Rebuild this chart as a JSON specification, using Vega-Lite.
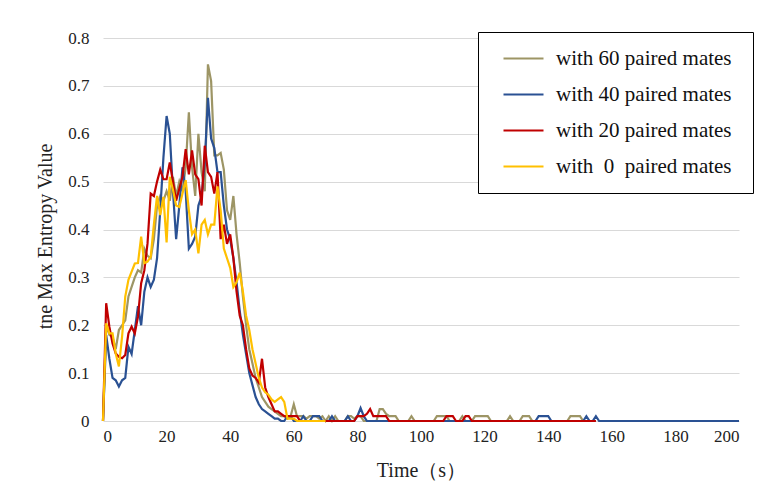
{
"$schema": "https://vega.github.io/schema/vega-lite/v6.json",
"width": 636, "height": 383,
"autosize": {"type": "none"},
"padding": {"left": 103, "top": 38, "right": 21, "bottom": 76},
"background": "white",
"config": {"view": {"stroke": null}, "font": "Liberation Serif",
 "axis": {"labelFont": "Liberation Serif", "titleFont": "Liberation Serif"},
 "legend": {"labelFont": "Liberation Serif", "titleFont": "Liberation Serif"}},
"data": {"values": [
{"s":"60","t":0,"v":0},{"s":"60","t":1,"v":0.2},{"s":"60","t":2,"v":0.18},{"s":"60","t":3,"v":0.175},{"s":"60","t":4,"v":0.15},{"s":"60","t":5,"v":0.19},{"s":"60","t":6,"v":0.2},{"s":"60","t":7,"v":0.21},{"s":"60","t":8,"v":0.26},{"s":"60","t":9,"v":0.28},{"s":"60","t":10,"v":0.3},{"s":"60","t":11,"v":0.315},{"s":"60","t":12,"v":0.31},{"s":"60","t":13,"v":0.36},{"s":"60","t":14,"v":0.345},{"s":"60","t":15,"v":0.34},{"s":"60","t":16,"v":0.38},{"s":"60","t":17,"v":0.45},{"s":"60","t":18,"v":0.47},{"s":"60","t":19,"v":0.46},{"s":"60","t":20,"v":0.48},{"s":"60","t":21,"v":0.46},{"s":"60","t":22,"v":0.51},{"s":"60","t":23,"v":0.47},{"s":"60","t":24,"v":0.5},{"s":"60","t":25,"v":0.48},{"s":"60","t":26,"v":0.53},{"s":"60","t":27,"v":0.645},{"s":"60","t":28,"v":0.53},{"s":"60","t":29,"v":0.47},{"s":"60","t":30,"v":0.6},{"s":"60","t":31,"v":0.52},{"s":"60","t":32,"v":0.48},{"s":"60","t":33,"v":0.745},{"s":"60","t":34,"v":0.71},{"s":"60","t":35,"v":0.555},{"s":"60","t":36,"v":0.555},{"s":"60","t":37,"v":0.56},{"s":"60","t":38,"v":0.525},{"s":"60","t":39,"v":0.44},{"s":"60","t":40,"v":0.42},{"s":"60","t":41,"v":0.47},{"s":"60","t":42,"v":0.39},{"s":"60","t":43,"v":0.33},{"s":"60","t":44,"v":0.26},{"s":"60","t":45,"v":0.2},{"s":"60","t":46,"v":0.15},{"s":"60","t":47,"v":0.12},{"s":"60","t":48,"v":0.09},{"s":"60","t":49,"v":0.07},{"s":"60","t":50,"v":0.05},{"s":"60","t":51,"v":0.04},{"s":"60","t":52,"v":0.03},{"s":"60","t":53,"v":0.025},{"s":"60","t":54,"v":0.02},{"s":"60","t":55,"v":0.015},{"s":"60","t":56,"v":0.01},{"s":"60","t":57,"v":0.01},{"s":"60","t":58,"v":0.005},{"s":"60","t":59,"v":0.01},{"s":"60","t":60,"v":0.035},{"s":"60","t":61,"v":0.01},{"s":"60","t":62,"v":0.01},{"s":"60","t":63,"v":0.01},{"s":"60","t":64,"v":0.005},{"s":"60","t":65,"v":0.01},{"s":"60","t":66,"v":0.01},{"s":"60","t":67,"v":0.01},{"s":"60","t":68,"v":0.005},{"s":"60","t":69,"v":0.01},{"s":"60","t":70,"v":0},{"s":"60","t":71,"v":0.01},{"s":"60","t":72,"v":0},{"s":"60","t":73,"v":0.01},{"s":"60","t":74,"v":0},{"s":"60","t":76,"v":0},{"s":"60","t":77,"v":0.01},{"s":"60","t":78,"v":0.01},{"s":"60","t":79,"v":0.005},{"s":"60","t":80,"v":0.01},{"s":"60","t":81,"v":0.01},{"s":"60","t":82,"v":0},{"s":"60","t":86,"v":0},{"s":"60","t":87,"v":0.025},{"s":"60","t":88,"v":0.025},{"s":"60","t":89,"v":0.015},{"s":"60","t":90,"v":0.01},{"s":"60","t":91,"v":0.01},{"s":"60","t":92,"v":0.01},{"s":"60","t":93,"v":0},{"s":"60","t":96,"v":0},{"s":"60","t":97,"v":0.01},{"s":"60","t":98,"v":0},{"s":"60","t":104,"v":0},{"s":"60","t":105,"v":0.01},{"s":"60","t":106,"v":0.01},{"s":"60","t":107,"v":0.01},{"s":"60","t":108,"v":0.01},{"s":"60","t":109,"v":0},{"s":"60","t":112,"v":0},{"s":"60","t":113,"v":0.01},{"s":"60","t":114,"v":0},{"s":"60","t":116,"v":0},{"s":"60","t":117,"v":0.01},{"s":"60","t":118,"v":0.01},{"s":"60","t":119,"v":0.01},{"s":"60","t":120,"v":0.01},{"s":"60","t":121,"v":0.01},{"s":"60","t":122,"v":0},{"s":"60","t":127,"v":0},{"s":"60","t":128,"v":0.01},{"s":"60","t":129,"v":0},{"s":"60","t":131,"v":0},{"s":"60","t":132,"v":0.01},{"s":"60","t":133,"v":0.01},{"s":"60","t":134,"v":0.01},{"s":"60","t":135,"v":0},{"s":"60","t":146,"v":0},{"s":"60","t":147,"v":0.01},{"s":"60","t":148,"v":0.01},{"s":"60","t":149,"v":0.01},{"s":"60","t":150,"v":0.01},{"s":"60","t":151,"v":0},{"s":"60","t":155,"v":0},
{"s":"40","t":0,"v":0},{"s":"40","t":1,"v":0.18},{"s":"40","t":2,"v":0.13},{"s":"40","t":3,"v":0.09},{"s":"40","t":4,"v":0.085},{"s":"40","t":5,"v":0.072},{"s":"40","t":6,"v":0.085},{"s":"40","t":7,"v":0.09},{"s":"40","t":8,"v":0.155},{"s":"40","t":9,"v":0.14},{"s":"40","t":10,"v":0.19},{"s":"40","t":11,"v":0.24},{"s":"40","t":12,"v":0.2},{"s":"40","t":13,"v":0.27},{"s":"40","t":14,"v":0.3},{"s":"40","t":15,"v":0.28},{"s":"40","t":16,"v":0.295},{"s":"40","t":17,"v":0.34},{"s":"40","t":18,"v":0.44},{"s":"40","t":19,"v":0.55},{"s":"40","t":20,"v":0.637},{"s":"40","t":21,"v":0.6},{"s":"40","t":22,"v":0.48},{"s":"40","t":23,"v":0.38},{"s":"40","t":24,"v":0.45},{"s":"40","t":25,"v":0.53},{"s":"40","t":26,"v":0.48},{"s":"40","t":27,"v":0.36},{"s":"40","t":28,"v":0.37},{"s":"40","t":29,"v":0.385},{"s":"40","t":30,"v":0.45},{"s":"40","t":31,"v":0.47},{"s":"40","t":32,"v":0.54},{"s":"40","t":33,"v":0.675},{"s":"40","t":34,"v":0.59},{"s":"40","t":35,"v":0.57},{"s":"40","t":36,"v":0.52},{"s":"40","t":37,"v":0.52},{"s":"40","t":38,"v":0.45},{"s":"40","t":39,"v":0.4},{"s":"40","t":40,"v":0.38},{"s":"40","t":41,"v":0.34},{"s":"40","t":42,"v":0.29},{"s":"40","t":43,"v":0.23},{"s":"40","t":44,"v":0.18},{"s":"40","t":45,"v":0.14},{"s":"40","t":46,"v":0.1},{"s":"40","t":47,"v":0.075},{"s":"40","t":48,"v":0.05},{"s":"40","t":49,"v":0.035},{"s":"40","t":50,"v":0.025},{"s":"40","t":51,"v":0.02},{"s":"40","t":52,"v":0.015},{"s":"40","t":53,"v":0.01},{"s":"40","t":54,"v":0.005},{"s":"40","t":55,"v":0.005},{"s":"40","t":56,"v":0},{"s":"40","t":57,"v":0},{"s":"40","t":58,"v":0.01},{"s":"40","t":59,"v":0.01},{"s":"40","t":60,"v":0},{"s":"40","t":62,"v":0},{"s":"40","t":63,"v":0.01},{"s":"40","t":64,"v":0},{"s":"40","t":65,"v":0},{"s":"40","t":66,"v":0.01},{"s":"40","t":67,"v":0.01},{"s":"40","t":68,"v":0.01},{"s":"40","t":69,"v":0},{"s":"40","t":71,"v":0},{"s":"40","t":72,"v":0.01},{"s":"40","t":73,"v":0},{"s":"40","t":76,"v":0},{"s":"40","t":77,"v":0.01},{"s":"40","t":78,"v":0},{"s":"40","t":79,"v":0},{"s":"40","t":80,"v":0.01},{"s":"40","t":81,"v":0.027},{"s":"40","t":82,"v":0.01},{"s":"40","t":83,"v":0},{"s":"40","t":136,"v":0},{"s":"40","t":137,"v":0.01},{"s":"40","t":138,"v":0.01},{"s":"40","t":139,"v":0.01},{"s":"40","t":140,"v":0.01},{"s":"40","t":141,"v":0},{"s":"40","t":151,"v":0},{"s":"40","t":152,"v":0.01},{"s":"40","t":153,"v":0},{"s":"40","t":154,"v":0},{"s":"40","t":155,"v":0.01},{"s":"40","t":156,"v":0},{"s":"40","t":200,"v":0},
{"s":"20","t":0,"v":0},{"s":"20","t":1,"v":0.246},{"s":"20","t":2,"v":0.197},{"s":"20","t":3,"v":0.162},{"s":"20","t":4,"v":0.141},{"s":"20","t":5,"v":0.134},{"s":"20","t":6,"v":0.131},{"s":"20","t":7,"v":0.138},{"s":"20","t":8,"v":0.183},{"s":"20","t":9,"v":0.197},{"s":"20","t":10,"v":0.183},{"s":"20","t":11,"v":0.218},{"s":"20","t":12,"v":0.288},{"s":"20","t":13,"v":0.315},{"s":"20","t":14,"v":0.371},{"s":"20","t":15,"v":0.475},{"s":"20","t":16,"v":0.47},{"s":"20","t":17,"v":0.5},{"s":"20","t":18,"v":0.525},{"s":"20","t":19,"v":0.505},{"s":"20","t":20,"v":0.505},{"s":"20","t":21,"v":0.54},{"s":"20","t":22,"v":0.5},{"s":"20","t":23,"v":0.46},{"s":"20","t":24,"v":0.485},{"s":"20","t":25,"v":0.51},{"s":"20","t":26,"v":0.568},{"s":"20","t":27,"v":0.515},{"s":"20","t":28,"v":0.565},{"s":"20","t":29,"v":0.515},{"s":"20","t":30,"v":0.505},{"s":"20","t":31,"v":0.45},{"s":"20","t":32,"v":0.575},{"s":"20","t":33,"v":0.52},{"s":"20","t":34,"v":0.51},{"s":"20","t":35,"v":0.475},{"s":"20","t":36,"v":0.52},{"s":"20","t":37,"v":0.38},{"s":"20","t":38,"v":0.41},{"s":"20","t":39,"v":0.37},{"s":"20","t":40,"v":0.39},{"s":"20","t":41,"v":0.34},{"s":"20","t":42,"v":0.27},{"s":"20","t":43,"v":0.22},{"s":"20","t":44,"v":0.2},{"s":"20","t":45,"v":0.15},{"s":"20","t":46,"v":0.11},{"s":"20","t":47,"v":0.095},{"s":"20","t":48,"v":0.09},{"s":"20","t":49,"v":0.08},{"s":"20","t":50,"v":0.13},{"s":"20","t":51,"v":0.07},{"s":"20","t":52,"v":0.05},{"s":"20","t":53,"v":0.035},{"s":"20","t":54,"v":0.02},{"s":"20","t":55,"v":0.02},{"s":"20","t":56,"v":0.015},{"s":"20","t":57,"v":0.01},{"s":"20","t":58,"v":0.01},{"s":"20","t":59,"v":0.01},{"s":"20","t":60,"v":0.01},{"s":"20","t":61,"v":0.01},{"s":"20","t":62,"v":0},{"s":"20","t":79,"v":0},{"s":"20","t":80,"v":0.01},{"s":"20","t":81,"v":0.01},{"s":"20","t":82,"v":0.01},{"s":"20","t":83,"v":0.015},{"s":"20","t":84,"v":0.025},{"s":"20","t":85,"v":0.01},{"s":"20","t":86,"v":0.01},{"s":"20","t":87,"v":0.01},{"s":"20","t":88,"v":0.01},{"s":"20","t":89,"v":0.01},{"s":"20","t":90,"v":0},{"s":"20","t":107,"v":0},{"s":"20","t":108,"v":0.01},{"s":"20","t":109,"v":0.01},{"s":"20","t":110,"v":0.01},{"s":"20","t":111,"v":0},{"s":"20","t":113,"v":0},{"s":"20","t":114,"v":0.01},{"s":"20","t":115,"v":0.01},{"s":"20","t":116,"v":0},{"s":"20","t":155,"v":0},
{"s":"0","t":0,"v":0},{"s":"0","t":1,"v":0.204},{"s":"0","t":2,"v":0.183},{"s":"0","t":3,"v":0.183},{"s":"0","t":4,"v":0.141},{"s":"0","t":5,"v":0.114},{"s":"0","t":6,"v":0.176},{"s":"0","t":7,"v":0.26},{"s":"0","t":8,"v":0.295},{"s":"0","t":9,"v":0.312},{"s":"0","t":10,"v":0.329},{"s":"0","t":11,"v":0.33},{"s":"0","t":12,"v":0.385},{"s":"0","t":13,"v":0.33},{"s":"0","t":14,"v":0.333},{"s":"0","t":15,"v":0.343},{"s":"0","t":16,"v":0.41},{"s":"0","t":17,"v":0.47},{"s":"0","t":18,"v":0.43},{"s":"0","t":19,"v":0.468},{"s":"0","t":20,"v":0.373},{"s":"0","t":21,"v":0.51},{"s":"0","t":22,"v":0.483},{"s":"0","t":23,"v":0.45},{"s":"0","t":24,"v":0.447},{"s":"0","t":25,"v":0.475},{"s":"0","t":26,"v":0.503},{"s":"0","t":27,"v":0.44},{"s":"0","t":28,"v":0.39},{"s":"0","t":29,"v":0.4},{"s":"0","t":30,"v":0.35},{"s":"0","t":31,"v":0.41},{"s":"0","t":32,"v":0.42},{"s":"0","t":33,"v":0.39},{"s":"0","t":34,"v":0.41},{"s":"0","t":35,"v":0.41},{"s":"0","t":36,"v":0.49},{"s":"0","t":37,"v":0.44},{"s":"0","t":38,"v":0.36},{"s":"0","t":39,"v":0.34},{"s":"0","t":40,"v":0.32},{"s":"0","t":41,"v":0.28},{"s":"0","t":42,"v":0.29},{"s":"0","t":43,"v":0.31},{"s":"0","t":44,"v":0.27},{"s":"0","t":45,"v":0.22},{"s":"0","t":46,"v":0.19},{"s":"0","t":47,"v":0.15},{"s":"0","t":48,"v":0.12},{"s":"0","t":49,"v":0.09},{"s":"0","t":50,"v":0.07},{"s":"0","t":51,"v":0.06},{"s":"0","t":52,"v":0.055},{"s":"0","t":53,"v":0.045},{"s":"0","t":54,"v":0.04},{"s":"0","t":55,"v":0.045},{"s":"0","t":56,"v":0.05},{"s":"0","t":57,"v":0.04},{"s":"0","t":58,"v":0.005},{"s":"0","t":59,"v":0.005},{"s":"0","t":60,"v":0.005},{"s":"0","t":61,"v":0},{"s":"0","t":70,"v":0}
]},
"mark": {"type": "line", "strokeWidth": 2.2},
"encoding": {
 "x": {"field": "t", "type": "quantitative", "scale": {"domain": [0, 200], "nice": false},
  "axis": {"title": "Time（s）", "values": [0,20,40,60,80,100,120,140,160,180,200], "grid": false, "domain": false, "ticks": false,
   "labelFontSize": 17, "labelColor": "#222", "labelPadding": 7, "labelFont": "Liberation Serif",
   "titleFontSize": 20, "titleFontWeight": "normal", "titleColor": "#222", "titlePadding": 16, "titleFont": "Liberation Serif"}},
 "y": {"field": "v", "type": "quantitative", "scale": {"domain": [0, 0.8], "nice": false},
  "axis": {"title": "tne Max Entropy Value", "values": [0,0.1,0.2,0.3,0.4,0.5,0.6,0.7,0.8], "format": "~g", "grid": true, "gridColor": "#d9d9d9", "gridWidth": 1, "domain": false, "ticks": false,
   "labelFontSize": 17, "labelColor": "#222", "labelPadding": 14, "labelFont": "Liberation Serif",
   "titleFontSize": 20, "titleFontWeight": "normal", "titleColor": "#222", "titlePadding": 12, "titleFont": "Liberation Serif", "titleY": 198}},
 "color": {"field": "s", "type": "nominal", "sort": null,
  "scale": {"domain": ["60", "40", "20", "0"], "range": ["#9d9565", "#2a5193", "#c00000", "#ffc000"]},
  "legend": {"orient": "none", "legendX": 375, "legendY": -6, "title": "\u00a0", "titleOrient": "bottom", "titleFontSize": 11, "titlePadding": 0,
   "strokeColor": "#000", "fillColor": "white",
   "padding": 5, "symbolType": "stroke", "symbolSize": 1600, "symbolStrokeWidth": 2.2, "symbolOffset": 19, "rowPadding": 4,
   "labelOffset": 11, "labelFontSize": 21, "labelFont": "Liberation Serif", "labelColor": "#111", "labelLimit": 400,
   "labelExpr": "datum.label == '0' ? 'with\u00a0\u00a00\u00a0\u00a0paired mates\u00a0\u00a0\u00a0\u200b' : 'with ' + datum.label + ' paired mates\u00a0\u00a0\u00a0\u200b'"}}
}
}
